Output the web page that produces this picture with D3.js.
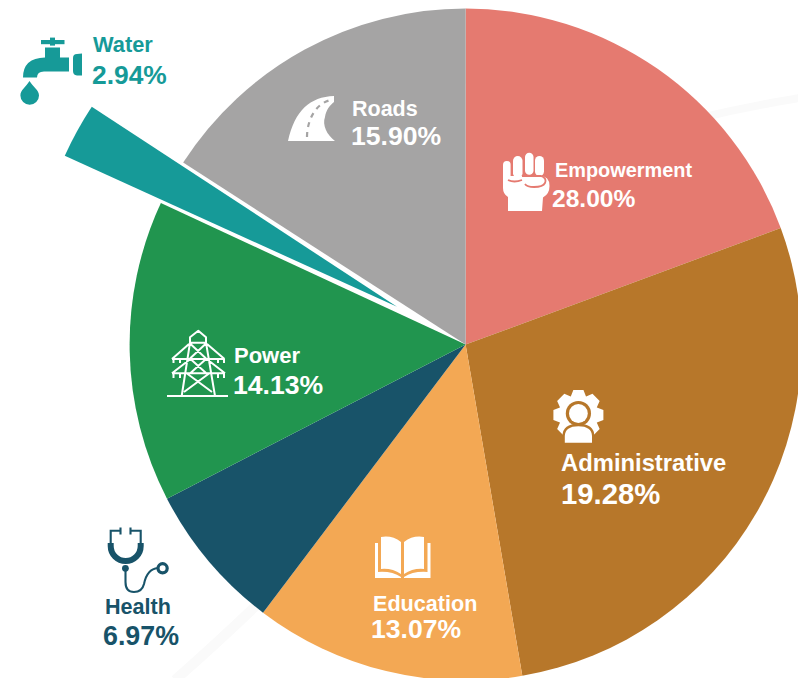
<!DOCTYPE html>
<html>
<head>
<meta charset="utf-8">
<script src="https://cdn.jsdelivr.net/npm/d3@7"></script>
<style>
html,body{margin:0;padding:0;background:#fff;overflow:hidden}
svg{display:block}
text{font-family:"Liberation Sans",Arial,sans-serif;font-weight:700}
</style>
</head>
<body>
<svg id="chart" width="798" height="678"></svg>
<script>
// ---- data ----
const categories = ["Empowerment","Administrative","Education","Health","Power","Water","Roads"];
// percentages printed on the labels
const printedValues = [28.00,19.28,13.07,6.97,14.13,2.94,15.90];
// share of the circle each slice actually occupies in the picture
const sliceShares = [19.36,27.94,13.0,7.12,14.5,2.19,15.89];
const colors = ["#E57A70","#B7772A","#F3A854","#185369","#21954F","#169A98","#A5A4A4"];

// ---- layout ----
const W = 798, H = 678;
const cx = 465.6, cy = 344.6, R = 336;
const explodedName = "Water", explodeDist = 78.3, explodedR = 365, explodedSpread = 0.45 * Math.PI/180;
const white = "#fff";
const labelLayout = {
  Empowerment:   {x:555,  y:177,   fs:19.9, vx:552,  vy:207,   vfs:24.6, fill:white},
  Administrative:{x:561,  y:471,   fs:23.8, vx:561,  vy:504,   vfs:29.3, fill:white},
  Education:     {x:373,  y:611,   fs:21.6, vx:371,  vy:638,   vfs:26.6, fill:white},
  Health:        {x:105,  y:614,   fs:21.6, vx:103,  vy:645,   vfs:26.8, fill:"#185369"},
  Power:         {x:234,  y:363,   fs:22,   vx:233,  vy:394,   vfs:26.6, fill:white},
  Water:         {x:93,   y:51.5,  fs:21.8, vx:92,   vy:83.5,  vfs:26.4, fill:"#169A98"},
  Roads:         {x:352,  y:116,   fs:21.5, vx:351,  vy:145,   vfs:26.6, fill:white}
};

const svg = d3.select("#chart");
svg.append("rect").attr("width",W).attr("height",H).attr("fill","#fff");

// faint decorative bands behind the pie
const bands = svg.append("g").attr("fill","none").attr("stroke","#FAFAFA").attr("stroke-width",8);
bands.append("path").attr("d","M700 118 Q750 106 800 98");
bands.append("path").attr("d","M175 680 Q215 645 262 600").attr("stroke-width",10);

// pie
const rows = categories.map((c,i)=>({name:c,share:sliceShares[i],printed:printedValues[i],color:colors[i]}));
const pie = d3.pie().value(d=>d.share).sort(null).startAngle(0).endAngle(2*Math.PI);
const arcs = pie(rows);
const arc = d3.arc().innerRadius(0);

const g = svg.append("g").attr("transform",`translate(${cx},${cy})`);
g.selectAll("path").data(arcs).join("path")
  .attr("fill",d=>d.data.color)
  .attr("d",d=>{
    const ex = d.data.name===explodedName;
    return arc({
      innerRadius:0,
      outerRadius: ex?explodedR:R,
      startAngle: d.startAngle-(ex?explodedSpread:0),
      endAngle: d.endAngle+(ex?explodedSpread:0)
    });
  })
  .attr("transform",d=>{
    if(d.data.name!==explodedName) return null;
    const m=(d.startAngle+d.endAngle)/2;
    return `translate(${explodeDist*Math.sin(m)},${-explodeDist*Math.cos(m)})`;
  });

// labels
const labels = svg.append("g");
rows.forEach(r=>{
  const l = labelLayout[r.name];
  labels.append("text").attr("x",l.x).attr("y",l.y).attr("font-size",l.fs).attr("fill",l.fill).text(r.name);
  labels.append("text").attr("x",l.vx).attr("y",l.vy).attr("font-size",l.vfs).attr("fill",l.fill).text(r.printed.toFixed(2)+"%");
});

// ---- icons ----
const icons = svg.append("g");
const teal="#169A98", navy="#185369", grey="#A5A4A4", pink="#E57A70", brown="#B7772A";

// faucet
const fa = icons.append("g").attr("fill",teal);
fa.append("rect").attr("x",41).attr("y",40).attr("width",23.5).attr("height",4.2);
fa.append("rect").attr("x",50).attr("y",37.6).attr("width",5).attr("height",8);
fa.append("rect").attr("x",45).attr("y",47.5).attr("width",15).attr("height",11);
fa.append("path").attr("d","M69 57.5H45Q23 58 23 77.5H37Q37 71.5 44 71.5H69Z");
fa.append("path").attr("d","M82 53.5V75.5H77Q73 75 73 71V58Q73 54 77 54Z");
fa.append("path").attr("d","M29.5 81C33 87 39 90 39 95.5A9.3 9.3 0 1 1 20.4 95.5C20.4 90 26 87 29.5 81Z");

// road
icons.append("path").attr("fill",white).attr("d","M334 96C310 97 295 110 288 141H335C327 135 322 125 325 117C326 110 330 105 334 102Z");
icons.append("path").attr("fill","none").attr("stroke",grey).attr("stroke-width",2.2).attr("stroke-dasharray","5 5")
  .attr("d","M307 137C307 120 316 102 333 99.5");

// fist
const fi = icons.append("g").attr("fill",white);
[[503,161,7.6,19],[513,156,9.5,22],[525,152.7,8.5,22],[535,156,9,20]].forEach(b=>{
  fi.append("rect").attr("x",b[0]).attr("y",b[1]).attr("width",b[2]).attr("height",b[3]).attr("rx",b[2]/2);
});
fi.append("path").attr("d","M503 176H540Q549.5 176 549.5 186Q549.5 194 543 197.5L542 211H508V197Q503 194 503 188Z");
icons.append("path").attr("fill","none").attr("stroke",pink).attr("stroke-width",1.8)
  .attr("d","M508 180Q514 183 522 180M522 176H541Q547 178 545 183Q543 187 534 187Q527 187 525 184");

// gear + person
const gearPts=[];
d3.range(8).map(i=>i*Math.PI/4).forEach(a=>{
  const w=0.2, r1=25.5, r2=20;
  [[a-0.39,r2],[a-w,r1],[a+w,r1],[a+0.39,r2]].forEach(p=>gearPts.push([578.4+p[1]*Math.sin(p[0]),415+p[1]*-Math.cos(p[0])]));
});
icons.append("path").attr("fill",white).attr("d",d3.line()(gearPts)+"Z");
icons.append("circle").attr("cx",578.4).attr("cy",413.5).attr("r",12.6).attr("fill",brown);
icons.append("circle").attr("cx",578.4).attr("cy",413.5).attr("r",9.4).attr("fill",white);
icons.append("path").attr("fill",white).attr("stroke",brown).attr("stroke-width",2.4)
  .attr("d","M563.6 444V436Q564 425 578.4 425Q592.8 425 593.2 436V444Z");
icons.append("rect").attr("x",555).attr("y",444).attr("width",46).attr("height",4).attr("fill",brown);

// book
const bk = icons.append("g").attr("fill",white);
bk.append("path").attr("d","M381 537Q392 535 401 542V574Q392 568 381 569Z");
bk.append("path").attr("d","M424 537Q413 535 404 542V574Q413 568 424 569Z");
bk.append("path").attr("d","M375 543H378V572Q392 571 401 577V578H375Z");
bk.append("path").attr("d","M430.5 543H427.5V572Q413 571 404 577V578H430.5Z");

// stethoscope
const st = icons.append("g").attr("fill","none").attr("stroke",navy);
st.append("path").attr("stroke-width",2.1).attr("d","M110.7 544V530.7H120M120.5 527.5V534.5M140.7 544V530.7H131M130.5 527.5V534.5");
st.append("path").attr("stroke-width",6).attr("d","M110.7 543V546A15 15 0 0 0 140.7 546V543");
st.append("path").attr("stroke-width",2.1).attr("d","M125.5 568V582Q125.5 592 134 592Q142 592 144 584Q147 569 158 568");
st.append("circle").attr("cx",125.4).attr("cy",568.3).attr("r",3.4).attr("fill",navy).attr("stroke","none");
st.append("circle").attr("cx",162.6).attr("cy",568.3).attr("r",4.6).attr("fill",white).attr("stroke-width",3.2);

// pylon
icons.append("path").attr("fill","none").attr("stroke",white).attr("stroke-width",2).attr("stroke-linejoin","round")
  .attr("d",[
    "M167 396H228",
    "M181.7 396L190 342.7V337.3L198.3 330.7L206 337.3V342.7L215 396",
    "M190 342.7H206",
    "M172 359L189 344M224.5 359L207 344M172 359H224.5",
    "M172 373.3L191 358.5M225 373.3L206 358.5M172 373.3H225",
    "M190 343.5L206 358.5M206 343.5L190 358.5",
    "M190.5 359L206 373M206 359L190.5 373",
    "M187 373.5L212 392M209 373.5L184 392",
    "M173.5 359V363M180 359V363M218 359V363M224 359V363",
    "M173.5 373.3V378M180 373.3V378M218 373.3V378M224 373.3V378"
  ].join(""));
</script>
</body>
</html>
